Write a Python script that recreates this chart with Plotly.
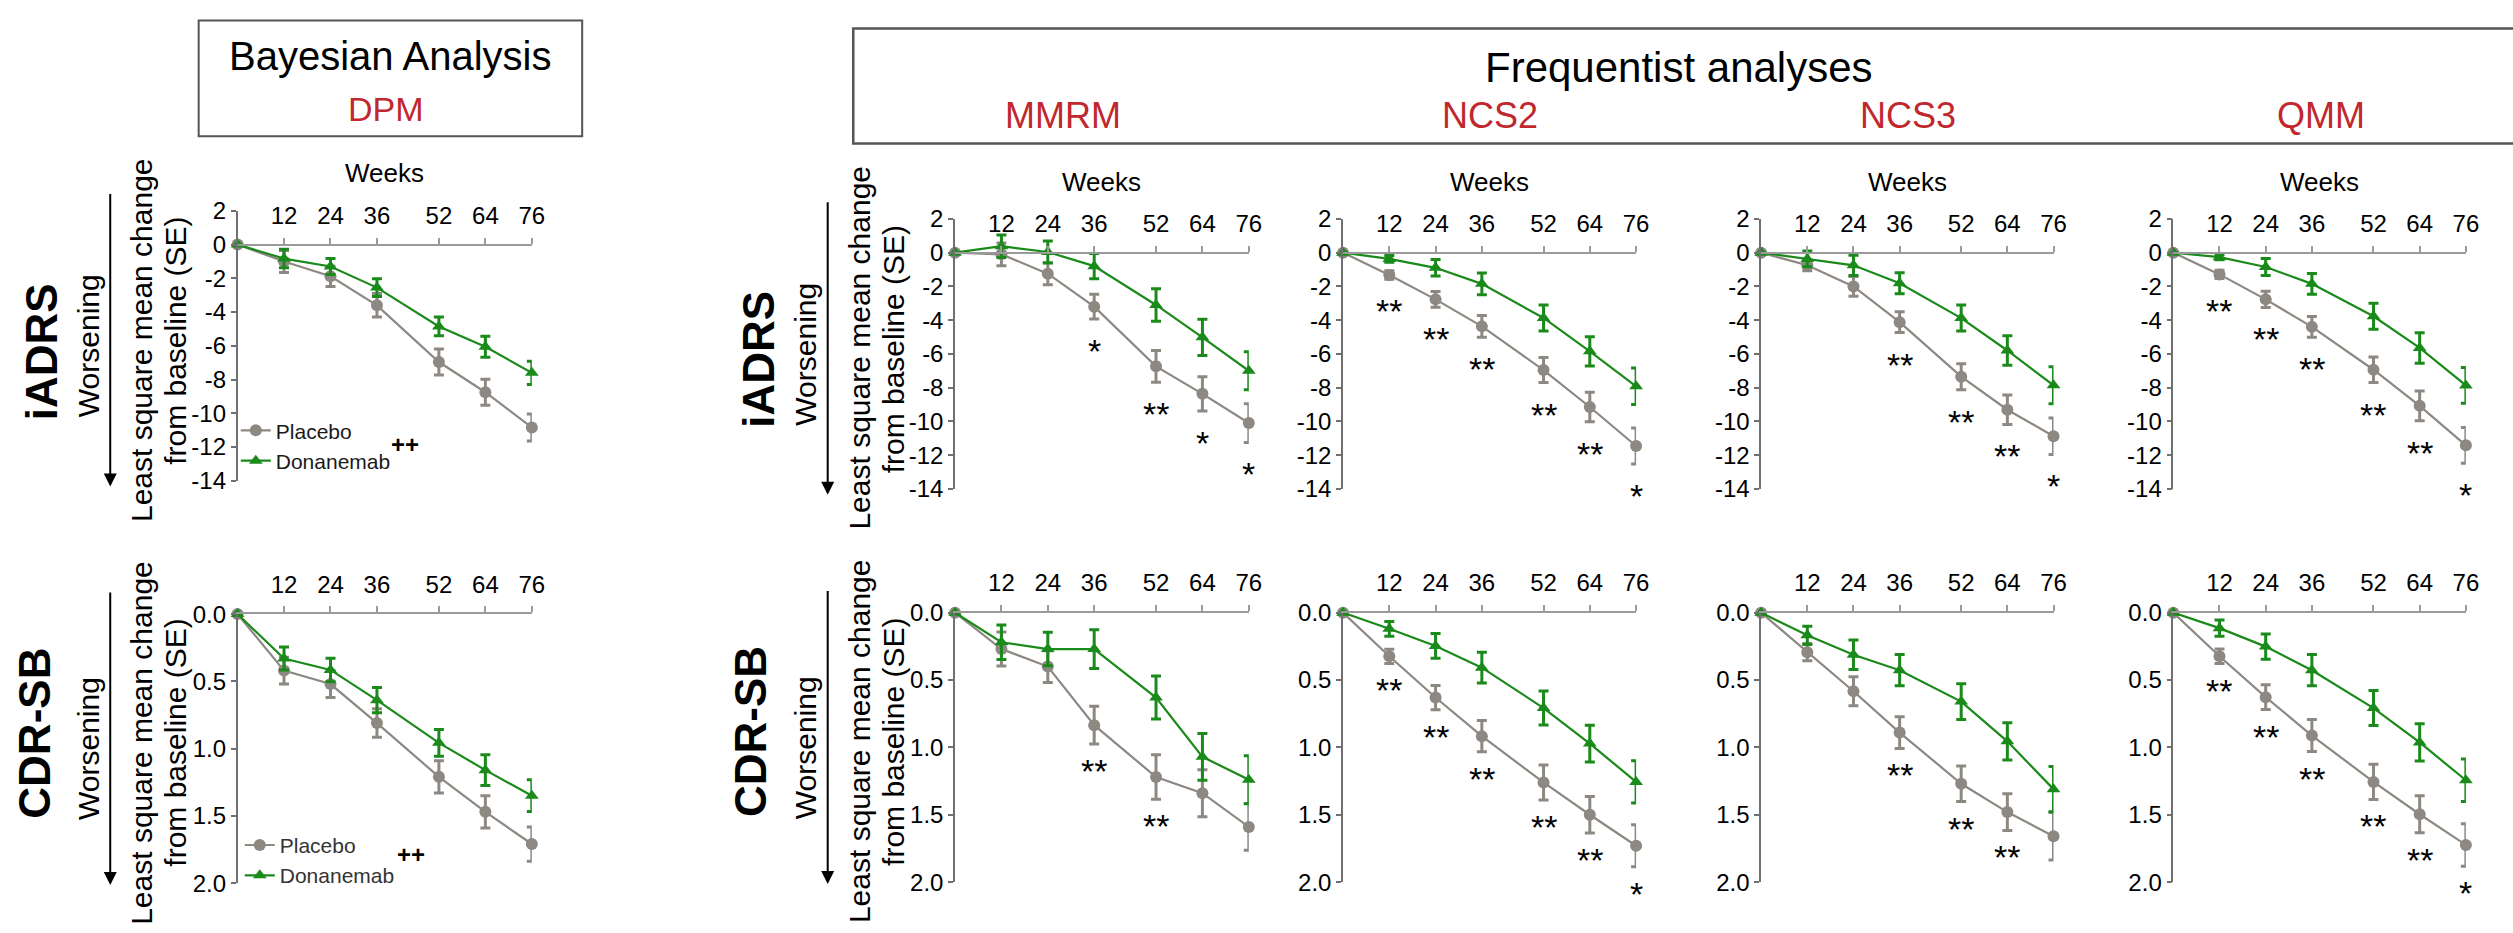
import plotly.graph_objects as go

W, H = 2513, 933

# ---------------- data ----------------
weeks = [0, 12, 24, 36, 52, 64, 76]
tick_weeks = [12, 24, 36, 52, 64, 76]
tick_week_labels = ["12", "24", "36", "52", "64", "76"]
iadrs_ticks = [2, 0, -2, -4, -6, -8, -10, -12, -14]
iadrs_tick_labels = ["2", "0", "-2", "-4", "-6", "-8", "-10", "-12", "-14"]
cdr_ticks = [0, 0.5, 1.0, 1.5, 2.0]
cdr_tick_labels = ["0.0", "0.5", "1.0", "1.5", "2.0"]

model_names = ["DPM", "MMRM", "NCS2", "NCS3", "QMM"]
arm_names = ["Placebo", "Donanemab"]

# iADRS (LS mean change, SE)
iadrs_dpm_pbo = [0, -1.0, -1.88, -3.6, -6.96, -8.75, -10.84]
iadrs_dpm_pbo_se = [0, 0.65, 0.6, 0.7, 0.77, 0.77, 0.8]
iadrs_dpm_don = [0, -0.83, -1.3, -2.55, -4.85, -6.06, -7.6]
iadrs_dpm_don_se = [0, 0.55, 0.48, 0.53, 0.56, 0.62, 0.69]

iadrs_mmrm_pbo = [0, -0.1, -1.25, -3.2, -6.74, -8.37, -10.1]
iadrs_mmrm_pbo_se = [0, 0.67, 0.65, 0.74, 0.94, 1.02, 1.15]
iadrs_mmrm_don = [0, 0.38, 0.04, -0.8, -3.1, -5.02, -7.0]
iadrs_mmrm_don_se = [0, 0.67, 0.65, 0.75, 0.96, 1.07, 1.13]

iadrs_ncs2_pbo = [0, -1.33, -2.77, -4.37, -6.96, -9.15, -11.46]
iadrs_ncs2_pbo_se = [0, 0.25, 0.46, 0.64, 0.74, 0.87, 1.07]
iadrs_ncs2_don = [0, -0.37, -0.9, -1.85, -3.87, -5.85, -7.92]
iadrs_ncs2_don_se = [0, 0.2, 0.49, 0.64, 0.77, 0.87, 1.08]

iadrs_ncs3_pbo = [0, -0.75, -2.0, -4.12, -7.35, -9.31, -10.88]
iadrs_ncs3_pbo_se = [0, 0.33, 0.58, 0.62, 0.77, 0.87, 1.08]
iadrs_ncs3_don = [0, -0.37, -0.75, -1.81, -3.88, -5.8, -7.86]
iadrs_ncs3_don_se = [0, 0.46, 0.6, 0.62, 0.77, 0.87, 1.1]

iadrs_qmm_pbo = [0, -1.29, -2.77, -4.4, -6.94, -9.08, -11.42]
iadrs_qmm_pbo_se = [0, 0.25, 0.48, 0.62, 0.76, 0.88, 1.06]
iadrs_qmm_don = [0, -0.27, -0.85, -1.85, -3.77, -5.65, -7.87]
iadrs_qmm_don_se = [0, 0.15, 0.5, 0.62, 0.77, 0.9, 1.06]

# CDR-SB (LS mean change, SE)
cdr_dpm_pbo = [0, 0.42, 0.52, 0.81, 1.21, 1.47, 1.71]
cdr_dpm_pbo_se = [0, 0.10, 0.10, 0.106, 0.12, 0.12, 0.128]
cdr_dpm_don = [0, 0.33, 0.415, 0.64, 0.957, 1.16, 1.35]
cdr_dpm_don_se = [0, 0.085, 0.087, 0.094, 0.10, 0.115, 0.118]

cdr_mmrm_pbo = [0, 0.27, 0.40, 0.835, 1.22, 1.34, 1.59]
cdr_mmrm_pbo_se = [0, 0.126, 0.118, 0.14, 0.165, 0.174, 0.174]
cdr_mmrm_don = [0, 0.22, 0.27, 0.27, 0.63, 1.07, 1.24]
cdr_mmrm_don_se = [0, 0.128, 0.124, 0.144, 0.16, 0.174, 0.178]

cdr_ncs2_pbo = [0, 0.324, 0.63, 0.917, 1.26, 1.5, 1.73]
cdr_ncs2_pbo_se = [0, 0.053, 0.09, 0.116, 0.13, 0.136, 0.156]
cdr_ncs2_don = [0, 0.12, 0.247, 0.408, 0.708, 0.972, 1.256]
cdr_ncs2_don_se = [0, 0.055, 0.092, 0.114, 0.126, 0.136, 0.156]

cdr_ncs3_pbo = [0, 0.293, 0.583, 0.89, 1.27, 1.48, 1.66]
cdr_ncs3_pbo_se = [0, 0.064, 0.108, 0.118, 0.132, 0.136, 0.176]
cdr_ncs3_don = [0, 0.168, 0.312, 0.427, 0.66, 0.955, 1.31]
cdr_ncs3_don_se = [0, 0.068, 0.11, 0.116, 0.133, 0.138, 0.168]

cdr_qmm_pbo = [0, 0.324, 0.627, 0.912, 1.256, 1.496, 1.724]
cdr_qmm_pbo_se = [0, 0.054, 0.092, 0.119, 0.13, 0.138, 0.158]
cdr_qmm_don = [0, 0.115, 0.252, 0.427, 0.708, 0.963, 1.244]
cdr_qmm_don_se = [0, 0.06, 0.094, 0.116, 0.13, 0.138, 0.157]

# significance flags per week (frequentist)
iadrs_mmrm_sig = ["", "", "", "*", "**", "*", "*"]
iadrs_ncs2_sig = ["", "**", "**", "**", "**", "**", "*"]
iadrs_ncs3_sig = ["", "", "", "**", "**", "**", "*"]
iadrs_qmm_sig = ["", "**", "**", "**", "**", "**", "*"]
cdr_mmrm_sig = ["", "", "", "**", "**", "", ""]
cdr_ncs2_sig = ["", "**", "**", "**", "**", "**", "*"]
cdr_ncs3_sig = ["", "", "", "**", "**", "**", ""]
cdr_qmm_sig = ["", "**", "**", "**", "**", "**", "*"]
dpm_sig = "++"

iadrs = {
    "DPM": (iadrs_dpm_pbo, iadrs_dpm_pbo_se, iadrs_dpm_don, iadrs_dpm_don_se, None),
    "MMRM": (iadrs_mmrm_pbo, iadrs_mmrm_pbo_se, iadrs_mmrm_don, iadrs_mmrm_don_se, iadrs_mmrm_sig),
    "NCS2": (iadrs_ncs2_pbo, iadrs_ncs2_pbo_se, iadrs_ncs2_don, iadrs_ncs2_don_se, iadrs_ncs2_sig),
    "NCS3": (iadrs_ncs3_pbo, iadrs_ncs3_pbo_se, iadrs_ncs3_don, iadrs_ncs3_don_se, iadrs_ncs3_sig),
    "QMM": (iadrs_qmm_pbo, iadrs_qmm_pbo_se, iadrs_qmm_don, iadrs_qmm_don_se, iadrs_qmm_sig),
}
cdr = {
    "DPM": (cdr_dpm_pbo, cdr_dpm_pbo_se, cdr_dpm_don, cdr_dpm_don_se, None),
    "MMRM": (cdr_mmrm_pbo, cdr_mmrm_pbo_se, cdr_mmrm_don, cdr_mmrm_don_se, cdr_mmrm_sig),
    "NCS2": (cdr_ncs2_pbo, cdr_ncs2_pbo_se, cdr_ncs2_don, cdr_ncs2_don_se, cdr_ncs2_sig),
    "NCS3": (cdr_ncs3_pbo, cdr_ncs3_pbo_se, cdr_ncs3_don, cdr_ncs3_don_se, cdr_ncs3_sig),
    "QMM": (cdr_qmm_pbo, cdr_qmm_pbo_se, cdr_qmm_don, cdr_qmm_don_se, cdr_qmm_sig),
}

# ---------------- styling / layout ----------------
FONT = "Liberation Sans, Arial, Helvetica, sans-serif"
RED = "#C0282D"
GRAY = "#8E8883"
GREEN = "#1A8A1A"
AXIS_Y = "#707070"
AXIS_X = "#9A9A9A"

col_px = [(238.8, 534.6), (960, 1255.3), (1350, 1644.6), (1770.3, 2064.2), (2184.6, 2478.7)]
top_px = [(202.7, 480.7)] + [(211.0, 489.0)] * 4   # pixel y of value 2 and -14
bot_px = [(618.0, 895.0)] + [(616.5, 894.0)] * 4   # pixel y of value 0 and 2


def fx(px):
    return px / W


def fy(py):
    return 1 - py / H


fig = go.Figure()
layout = dict(
    width=W, height=H,
    margin=dict(l=0, r=0, t=0, b=0),
    paper_bgcolor="white", plot_bgcolor="white",
    font=dict(family=FONT, color="black"),
    annotations=[], shapes=[],
)

arm_style = {
    "Placebo": dict(color=GRAY, symbol="circle"),
    "Donanemab": dict(color=GREEN, symbol="triangle-up"),
}

ann = layout["annotations"]


def text(px, py, t, size, color="black", angle=0, bold=False):
    ann.append(dict(
        xref="paper", yref="paper", x=fx(px), y=fy(py), text=("<b>%s</b>" % t) if bold else t,
        showarrow=False, xanchor="center", yanchor="middle", textangle=angle,
        font=dict(size=size, color=color, family=FONT),
    ))


k = 0
for row, (outcome, data) in enumerate([("iADRS", iadrs), ("CDR-SB", cdr)]):
    for c, model in enumerate(model_names):
        k += 1
        xs = "" if k == 1 else str(k)
        x0, x1 = col_px[c]
        pbo, pbo_se, don, don_se, sig = data[model]
        if row == 0:
            ya, yb = top_px[c]
            ydom = [fy(yb), fy(ya)]
            yrange = [-14, 2]
            ytv, ytt = iadrs_ticks, iadrs_tick_labels
            zero_py = ya + (yb - ya) * 2 / 16
            xaxis_extra = dict(anchor="free", position=fy(zero_py))
        else:
            ya, yb = bot_px[c]
            ydom = [fy(yb), fy(ya)]
            yrange = [2, 0]
            ytv, ytt = cdr_ticks, cdr_tick_labels
            xaxis_extra = dict(anchor="y" + xs)
        layout["xaxis" + xs] = dict(
            domain=[fx(x0), fx(x1)], range=[0, 76], side="top",
            tickvals=tick_weeks, ticktext=tick_week_labels,
            showline=True, linecolor=AXIS_X, linewidth=1.5,
            ticks="outside", ticklen=6, tickwidth=1.5, tickcolor=AXIS_X,
            tickfont=dict(size=24, color="black"), ticklabelstandoff=4,
            showgrid=False, zeroline=False, fixedrange=True, **xaxis_extra,
        )
        layout["yaxis" + xs] = dict(
            domain=ydom, range=yrange, anchor="x" + xs,
            tickvals=ytv, ticktext=ytt,
            showline=True, linecolor=AXIS_Y, linewidth=1.5,
            ticks="outside", ticklen=5, tickwidth=1.5, tickcolor=AXIS_Y,
            tickfont=dict(size=24, color="black"),
            showgrid=False, zeroline=False, fixedrange=True,
        )
        for arm, vals, se in [("Placebo", pbo, pbo_se), ("Donanemab", don, don_se)]:
            st = arm_style[arm]
            fig.add_trace(go.Scatter(
                x=weeks, y=vals, name=arm, mode="lines+markers",
                xaxis="x" + xs, yaxis="y" + xs, cliponaxis=False,
                line=dict(color=st["color"], width=2.2),
                marker=dict(color=st["color"], symbol=st["symbol"], size=12),
                error_y=dict(type="data", array=se, visible=True, color=st["color"],
                             thickness=3, width=5),
                showlegend=(model == "DPM"),
                legend="legend" if row == 0 else "legend2",
            ))
        # significance markers under placebo
        if sig is not None:
            for w, v, s, t in zip(weeks, pbo, pbo_se, sig):
                if not t:
                    continue
                end = v - s if row == 0 else v + s
                ann.append(dict(
                    xref="x" + xs, yref="y" + xs, x=w, y=end, text=t, showarrow=False,
                    xanchor="center", yanchor="middle",
                    yshift=-32 if row == 0 else -27,
                    font=dict(size=34, color="black", family=FONT),
                ))
        # Weeks label on top row
        if row == 0:
            text((x0 + x1) / 2, ya - 38.5, "Weeks", 26)

# row / axis labels (DPM column and MMRM column)
for (xa, row) in [(238.8, 0), (960, 0), (238.8, 1), (960, 1)]:
    if row == 0:
        ya, yb = (202.7, 480.7) if xa < 500 else (211.0, 489.0)
        mid = (ya + yb) / 2
        text(xa - 197, mid + 6, "iADRS", 44, bold=True, angle=-90)
        a_top, a_bot = ya - 10, yb + 6
    else:
        ya, yb = (618.0, 895.0) if xa < 500 else (616.5, 894.0)
        mid = (ya + yb) / 2
        text(xa - 205, mid - 16, "CDR-SB", 44, bold=True, angle=-90)
        a_top, a_bot = ya - 15, yb + 2
    text(xa - 150, mid, "Worsening", 30, angle=-90)
    text(xa - 96, mid - 6, "Least square mean change", 30, angle=-90)
    text(xa - 62, mid - 5 if row == 0 else mid - 6, "from baseline (SE)", 30, angle=-90)
    ann.append(dict(
        xref="paper", yref="paper", x=fx(xa - 128), y=fy(a_bot), text="",
        showarrow=True, ax=0, ay=-(a_bot - a_top), axref="pixel", ayref="pixel",
        arrowhead=2, arrowsize=1.3, arrowwidth=2, arrowcolor="black",
    ))

# "++" for DPM
text(407, 443, "<b>%s</b>" % dpm_sig, 24)
text(413, 866, "<b>%s</b>" % dpm_sig, 24)

# header boxes
text(392, 43, "Bayesian Analysis", 40)
text(388, 98, "DPM", 34, color=RED)
text(1688, 55, "Frequentist analyses", 42)
for cx, name in zip([1069, 1498, 1918, 2333], model_names[1:]):
    text(cx, 105, name, 36, color=RED)

layout["shapes"] = [
    dict(type="rect", xref="paper", yref="paper", x0=fx(199.7), x1=fx(585.2),
         y0=fy(126), y1=fy(6.7), line=dict(color="#555555", width=2)),
    dict(type="rect", xref="paper", yref="paper", x0=fx(857.7), x1=fx(2530),
         y0=fy(133.3), y1=fy(15), line=dict(color="#555555", width=2.5)),
]

layout["legend"] = dict(x=fx(237), y=fy(408), xanchor="left", yanchor="top",
                        bgcolor="rgba(0,0,0,0)", font=dict(size=21, color="#1A1A1A", family=FONT),
                        itemwidth=30, tracegroupgap=0)
layout["legend2"] = dict(x=fx(241), y=fy(835), xanchor="left", yanchor="top",
                         bgcolor="rgba(0,0,0,0)", font=dict(size=21, color="#333333", family=FONT),
                         itemwidth=30, tracegroupgap=0)

fig.update_layout(**layout)
fig.write_html("out.html")
